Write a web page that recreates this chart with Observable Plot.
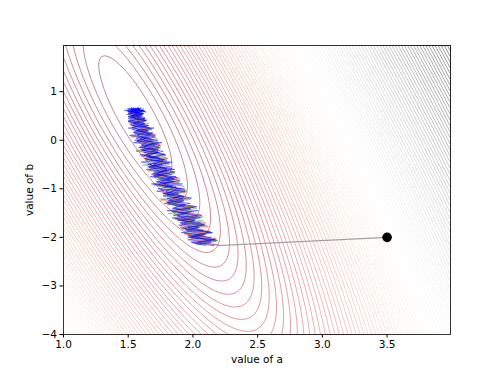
<!DOCTYPE html>
<html>
<head>
<meta charset="utf-8">
<script src="https://cdn.jsdelivr.net/npm/d3@7"></script>
<script src="https://cdn.jsdelivr.net/npm/@observablehq/plot@0.6"></script>
<style>
  html, body { margin: 0; padding: 0; background: white; }
</style>
</head>
<body>
<div id="chart"></div>
<script>
// ---- data ----
const aRange = [1.0, 3.99];
const bRange = [-4.0, 1.95];
const xTicks = [1.0, 1.5, 2.0, 2.5, 3.0, 3.5];
const yTicks = [-4, -3, -2, -1, 0, 1];

// loss surface (RMSE of a line fit), parameters estimated from the contours
const lossMinimum = [1.555, 0.52];  // (a, b) at the bottom of the valley
const meanX = 3.62;                 // cross term
const meanX2 = 18.56;               // curvature along a
const residualVar = 4.405;          // loss^2 at the minimum
const levelStep = 0.1;              // spacing of the contour levels

// start point and the full-gradient step
const startA = [3.5];
const startB = [-2.0];
const gdA = [3.5, 2.19];
const gdB = [-2.0, -2.17];

// stochastic paths
const redA = [2.17,2.00,2.16,1.98,2.12,1.93,2.08,1.90,2.05,1.86,2.00,1.81,1.95,1.78,1.90,1.74,1.86,1.70,1.82,1.66,1.78,1.63,1.74,1.60,1.70,1.57,1.66,1.54,1.63,1.52,1.60];
const redB = [-2.17,-2.10,-2.05,-1.98,-1.90,-1.82,-1.74,-1.65,-1.56,-1.47,-1.38,-1.29,-1.20,-1.10,-1.00,-0.90,-0.80,-0.70,-0.60,-0.50,-0.40,-0.30,-0.20,-0.10,0.00,0.10,0.20,0.30,0.40,0.50,0.58];
const red2A = [2.20,1.98,2.18,1.95,2.13,1.90,2.10,1.87,2.06,1.83,2.02,1.79,1.97,1.76,1.93,1.72,1.89,1.69,1.85,1.66,1.81,1.62,1.78,1.59,1.74,1.57,1.70,1.54,1.66,1.52,1.63,1.50,1.60];
const red2B = [-2.16,-2.09,-2.02,-1.95,-1.87,-1.79,-1.70,-1.62,-1.53,-1.45,-1.36,-1.27,-1.18,-1.09,-1.00,-0.91,-0.82,-0.73,-0.64,-0.55,-0.46,-0.37,-0.28,-0.19,-0.10,-0.01,0.08,0.17,0.26,0.35,0.44,0.52,0.60];
const red3A = [2.06,2.18,1.98,2.10,1.93,2.11,1.98,2.12,1.91,2.01,1.86,2.01,1.88,2.01,1.87,2.01,1.80,1.91,1.75,1.93,1.81,1.94,1.75,1.87,1.70,1.89,1.76,1.90,1.70,1.80,1.65,1.80,1.67,1.80,1.66,1.81,1.60,1.71,1.56,1.74,1.62,1.75,1.56,1.69,1.52,1.71,1.59,1.68,1.53,1.63,1.51,1.64,1.51,1.62,1.51,1.60];
const red3B = [-2.13,-2.08,-2.03,-1.98,-1.93,-1.88,-1.83,-1.78,-1.73,-1.68,-1.63,-1.58,-1.53,-1.48,-1.43,-1.38,-1.33,-1.28,-1.23,-1.18,-1.13,-1.08,-1.03,-0.98,-0.93,-0.88,-0.83,-0.78,-0.73,-0.68,-0.63,-0.58,-0.53,-0.48,-0.43,-0.38,-0.33,-0.28,-0.23,-0.18,-0.13,-0.08,-0.03,0.02,0.07,0.12,0.17,0.22,0.27,0.32,0.37,0.42,0.47,0.52,0.57,0.62];
const greenA = [2.05,2.14,2.02,2.10,1.96,2.06,1.92,2.03,1.88,1.98,1.84,1.93,1.80,1.89,1.76,1.84,1.72,1.81,1.68,1.77,1.64,1.73,1.61,1.69,1.58,1.66,1.55,1.62,1.53,1.60,1.54];
const greenB = [-2.15,-2.08,-2.00,-1.93,-1.85,-1.76,-1.68,-1.60,-1.50,-1.42,-1.33,-1.24,-1.15,-1.05,-0.95,-0.85,-0.75,-0.65,-0.55,-0.45,-0.35,-0.25,-0.15,-0.05,0.05,0.15,0.25,0.35,0.45,0.55,0.62];
const green2A = [2.01,2.19,1.97,2.15,1.92,2.11,1.88,2.08,1.85,2.03,1.81,1.98,1.77,1.95,1.74,1.90,1.70,1.86,1.67,1.82,1.63,1.79,1.60,1.75,1.58,1.72,1.55,1.68,1.53,1.64,1.51,1.61,1.53];
const green2B = [-2.14,-2.07,-1.99,-1.91,-1.83,-1.75,-1.66,-1.58,-1.49,-1.40,-1.31,-1.22,-1.13,-1.04,-0.95,-0.86,-0.77,-0.68,-0.59,-0.50,-0.41,-0.32,-0.23,-0.14,-0.05,0.04,0.13,0.22,0.31,0.40,0.49,0.57,0.64];
const green3A = [2.06,2.19,1.98,2.08,1.93,2.08,1.94,2.07,1.93,2.08,1.86,1.97,1.81,1.99,1.87,2.00,1.81,1.92,1.75,1.94,1.81,1.95,1.75,1.85,1.70,1.85,1.72,1.85,1.71,1.86,1.66,1.77,1.61,1.79,1.67,1.80,1.61,1.73,1.56,1.75,1.63,1.74,1.57,1.67,1.53,1.68,1.55,1.68,1.55,1.66,1.50,1.60,1.50,1.61,1.50,1.59];
const green3B = [-2.11,-2.06,-2.01,-1.96,-1.91,-1.86,-1.81,-1.76,-1.71,-1.66,-1.61,-1.56,-1.51,-1.46,-1.41,-1.36,-1.31,-1.26,-1.21,-1.16,-1.11,-1.06,-1.01,-0.96,-0.91,-0.86,-0.81,-0.76,-0.71,-0.66,-0.61,-0.56,-0.51,-0.46,-0.41,-0.36,-0.31,-0.26,-0.21,-0.16,-0.11,-0.06,-0.01,0.04,0.09,0.14,0.19,0.24,0.29,0.34,0.39,0.44,0.49,0.54,0.59,0.64];
const blue1A = [2.10,2.02,2.13,1.99,2.09,1.95,2.05,1.91,2.02,1.88,1.98,1.85,1.94,1.82,1.91,1.79,1.87,1.75,1.84,1.72,1.80,1.69,1.77,1.65,1.73,1.62,1.70,1.59,1.67,1.56,1.64,1.54,1.62,1.52,1.61,1.51,1.59,1.53,1.57,1.55,1.62,1.58,1.54,1.60];
const blue1B = [-2.17,-2.12,-2.06,-2.00,-1.94,-1.87,-1.80,-1.72,-1.64,-1.56,-1.48,-1.40,-1.32,-1.23,-1.14,-1.05,-0.96,-0.87,-0.78,-0.69,-0.60,-0.51,-0.42,-0.33,-0.24,-0.15,-0.06,0.03,0.12,0.20,0.28,0.35,0.42,0.48,0.54,0.60,0.64,0.58,0.66,0.52,0.62,0.45,0.60,0.67];
const blue2A = [1.90,1.80,1.88,1.77,1.85,1.73,1.79,1.67,1.75,1.64,1.71,1.60,1.68,1.57,1.65,1.53,1.63,1.51,1.61,1.50,1.60,1.52,1.63,1.55,1.59,1.49];
const blue2B = [-1.20,-1.10,-1.00,-0.90,-0.80,-0.70,-0.60,-0.50,-0.40,-0.30,-0.20,-0.10,0.00,0.10,0.18,0.26,0.34,0.42,0.50,0.56,0.62,0.66,0.60,0.64,0.55,0.65];
const blue3A = [2.16,1.99,2.17,1.96,2.14,1.91,2.09,1.88,2.07,1.84,2.03,1.80,1.99,1.77,1.94,1.73,1.90,1.70,1.86,1.66,1.82,1.63,1.78,1.60,1.75,1.57,1.71,1.54,1.67,1.51,1.64,1.50,1.62,1.49,1.60,1.52,1.58,1.56,1.62,1.53,1.50];
const blue3B = [-2.17,-2.11,-2.04,-1.97,-1.89,-1.81,-1.73,-1.64,-1.55,-1.46,-1.37,-1.28,-1.19,-1.10,-1.01,-0.92,-0.83,-0.74,-0.65,-0.56,-0.47,-0.38,-0.29,-0.20,-0.11,-0.02,0.07,0.16,0.25,0.33,0.41,0.48,0.55,0.61,0.66,0.60,0.68,0.55,0.65,0.50,0.63];
const blue4A = [1.93,1.72,1.88,1.69,1.84,1.65,1.80,1.62,1.77,1.59,1.73,1.56,1.69,1.53,1.66,1.50,1.63,1.49,1.61,1.50,1.64,1.54,1.60,1.47,1.58,1.52];
const blue4B = [-0.95,-0.86,-0.77,-0.68,-0.59,-0.50,-0.41,-0.32,-0.23,-0.14,-0.05,0.04,0.13,0.22,0.30,0.38,0.46,0.53,0.60,0.65,0.58,0.67,0.52,0.62,0.56,0.68];
const blue5A = [2.19,2.04,2.18,1.96,2.07,1.91,2.08,1.96,2.09,1.90,2.01,1.84,2.03,1.90,2.04,1.84,1.94,1.78,1.93,1.80,1.93,1.79,1.94,1.73,1.84,1.68,1.86,1.74,1.87,1.68,1.80,1.64,1.83,1.70,1.84,1.64,1.74,1.59,1.74,1.61,1.74,1.61,1.76,1.55,1.66,1.51,1.69,1.57,1.70,1.52,1.62,1.50,1.63,1.53,1.62,1.50,1.58];
const blue5B = [-2.15,-2.10,-2.05,-2.00,-1.95,-1.90,-1.85,-1.80,-1.75,-1.70,-1.65,-1.60,-1.55,-1.50,-1.45,-1.40,-1.35,-1.30,-1.25,-1.20,-1.15,-1.10,-1.05,-1.00,-0.95,-0.90,-0.85,-0.80,-0.75,-0.70,-0.65,-0.60,-0.55,-0.50,-0.45,-0.40,-0.35,-0.30,-0.25,-0.20,-0.15,-0.10,-0.05,0.00,0.05,0.10,0.15,0.20,0.25,0.30,0.35,0.40,0.45,0.50,0.55,0.60,0.65];
const blue6A = [2.03,2.14,1.96,2.14,2.01,2.15,1.94,2.04,1.89,2.06,1.91,2.06,1.85,1.96,1.80,1.98,1.86,1.98,1.81,1.92,1.77,1.89,1.72,1.91,1.78,1.92,1.72,1.82,1.67,1.84,1.70,1.86,1.65,1.76,1.60,1.78,1.66,1.79,1.62,1.73,1.58,1.71,1.54,1.73,1.60,1.71,1.55,1.65,1.50,1.65,1.54,1.64,1.50,1.60,1.50,1.62,1.51];
const blue6B = [-2.15,-2.10,-2.05,-2.00,-1.95,-1.90,-1.85,-1.80,-1.75,-1.70,-1.65,-1.60,-1.55,-1.50,-1.45,-1.40,-1.35,-1.30,-1.25,-1.20,-1.15,-1.10,-1.05,-1.00,-0.95,-0.90,-0.85,-0.80,-0.75,-0.70,-0.65,-0.60,-0.55,-0.50,-0.45,-0.40,-0.35,-0.30,-0.25,-0.20,-0.15,-0.10,-0.05,0.00,0.05,0.10,0.15,0.20,0.25,0.30,0.35,0.40,0.45,0.50,0.55,0.60,0.65];

const loss = (a, b) => {
  const da = a - lossMinimum[0], db = b - lossMinimum[1];
  return Math.sqrt(residualVar + meanX2 * da * da + 2 * meanX * da * db + db * db);
};

const pts = (A, B) => A.map((a, i) => ({a, b: B[i]}));

const pathStyle = {x: "a", y: "b", strokeWidth: 0.7, strokeOpacity: 0.45};
const blueStyle = {x: "a", y: "b", strokeWidth: 0.75, strokeOpacity: 0.6, stroke: "blue"};

const chart = Plot.plot({
  width: 500,
  height: 375,
  marginLeft: 63,
  marginRight: 50,
  marginTop: 45,
  marginBottom: 41,
  style: {fontFamily: "DejaVu Sans, sans-serif", fontSize: "10.5px", background: "white", color: "#000"},
  x: {domain: aRange},
  y: {domain: bRange},
  color: {type: "linear", scheme: "RdGy"},
  marks: [
    Plot.contour({
      x1: aRange[0], x2: aRange[1], y1: bRange[0], y2: bRange[1],
      value: loss,
      pixelSize: 1,
      interval: levelStep,
      fill: "none",
      stroke: "value",
      strokeWidth: 0.75,
      strokeOpacity: 0.62
    }),
    Plot.line(pts(redA, redB), {...pathStyle, stroke: "red"}),
    Plot.line(pts(red2A, red2B), {...pathStyle, stroke: "red"}),
    Plot.line(pts(red3A, red3B), {...pathStyle, stroke: "red"}),
    Plot.line(pts(greenA, greenB), {...pathStyle, stroke: "green"}),
    Plot.line(pts(green2A, green2B), {...pathStyle, stroke: "green"}),
    Plot.line(pts(green3A, green3B), {...pathStyle, stroke: "green"}),
    Plot.line(pts(blue1A, blue1B), blueStyle),
    Plot.line(pts(blue2A, blue2B), blueStyle),
    Plot.line(pts(blue3A, blue3B), blueStyle),
    Plot.line(pts(blue4A, blue4B), blueStyle),
    Plot.line(pts(blue5A, blue5B), blueStyle),
    Plot.line(pts(blue6A, blue6B), blueStyle),
    Plot.line(pts(gdA, gdB), {x: "a", y: "b", stroke: "#a89ea2", strokeWidth: 1.1}),
    Plot.dot(pts(startA, startB), {x: "a", y: "b", r: 4.8, fill: "black", stroke: "none"}),
    Plot.frame({stroke: "#222", strokeWidth: 0.9}),
    Plot.axisX({ticks: xTicks, tickFormat: ".1f", tickSize: 3.5, tickPadding: 3, label: "value of a", labelAnchor: "center", labelOffset: 28, labelArrow: "none"}),
    Plot.axisY({ticks: yTicks, tickFormat: d3.format("d"), tickSize: 3.5, tickPadding: 3, label: "value of b", labelAnchor: "center", labelOffset: 38, labelArrow: "none"})
  ]
});
document.getElementById("chart").appendChild(chart);
</script>
</body>
</html>
